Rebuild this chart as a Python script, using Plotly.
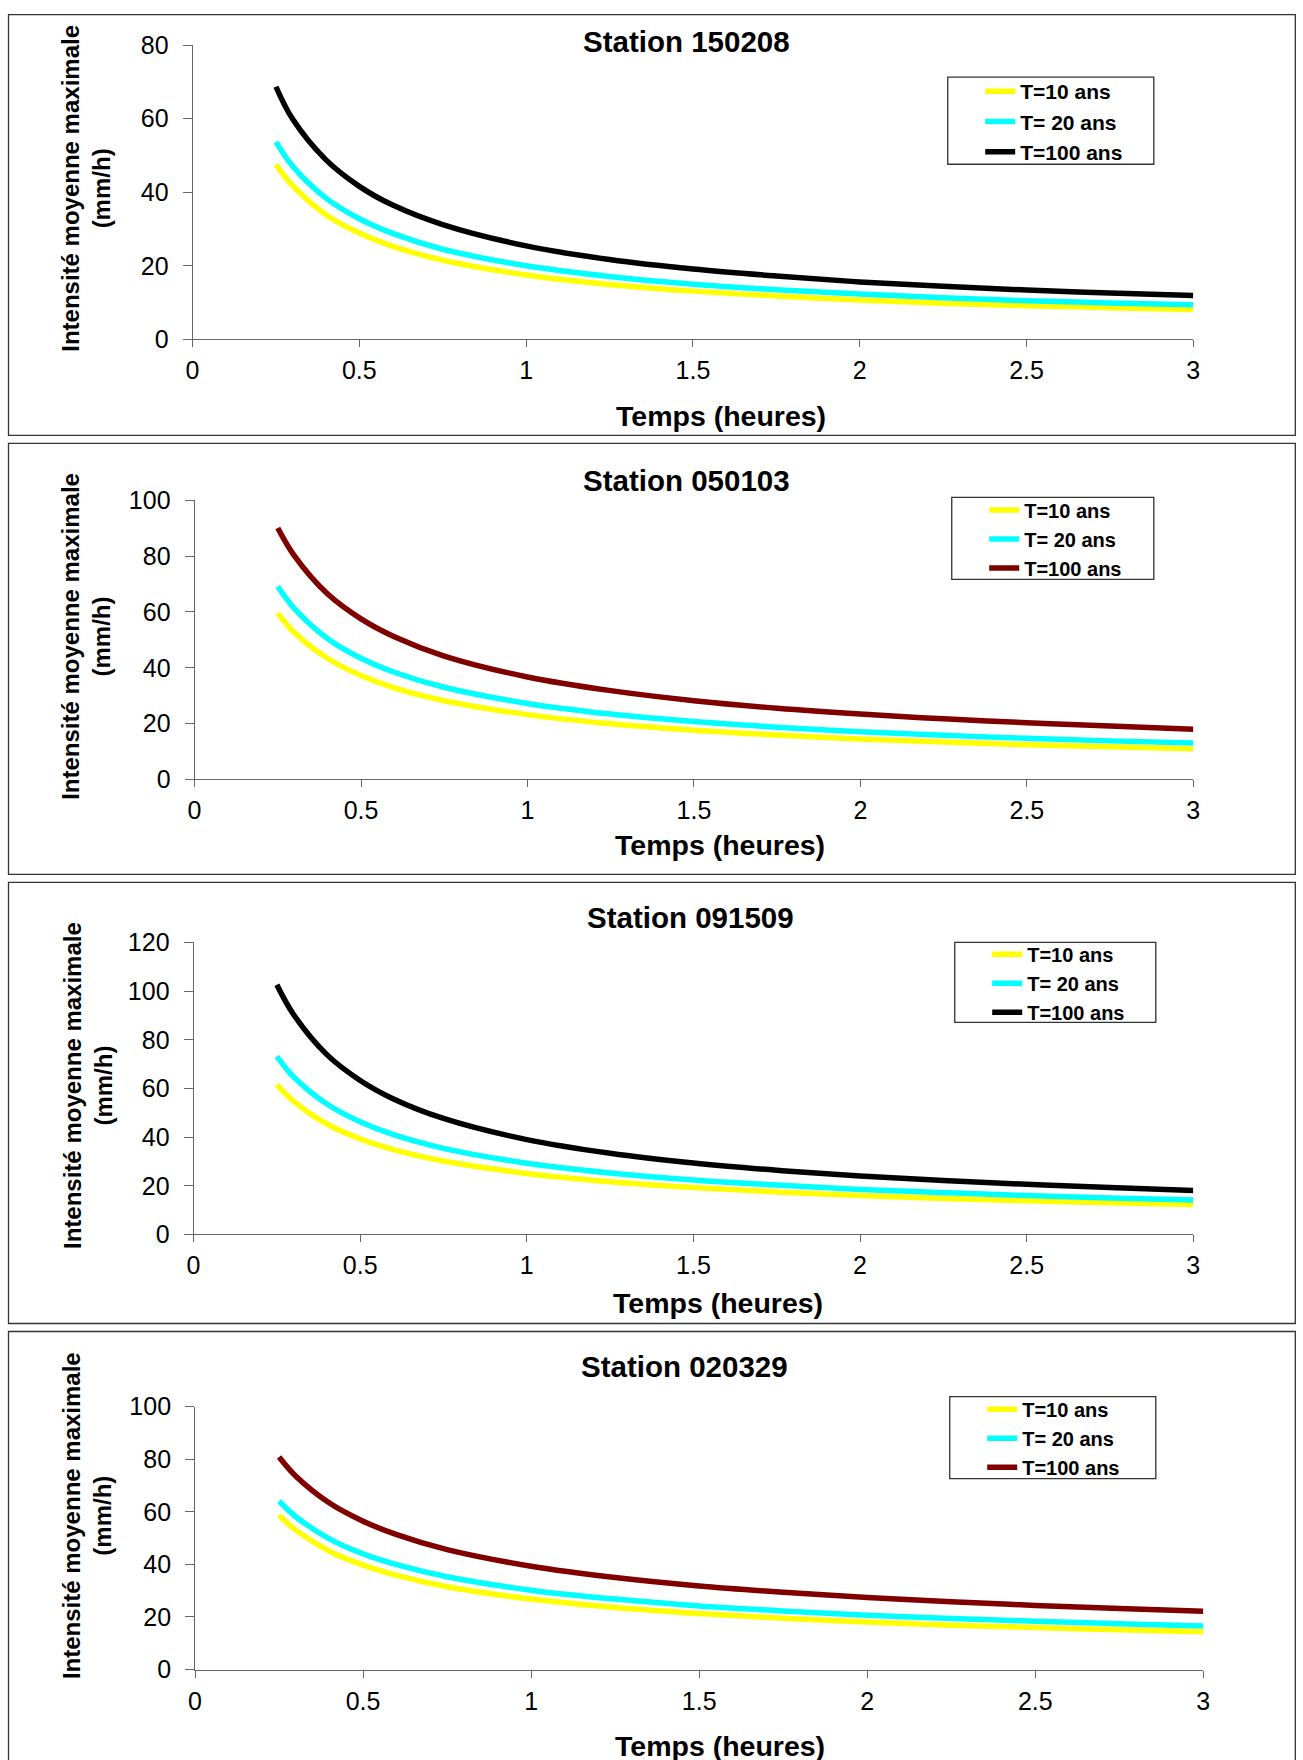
import plotly.graph_objects as go

FW, FH = 1303, 1776        # figure size (page px)

# ---------------- data ----------------
time_h = [0.25, 0.3, 0.4, 0.5, 0.6, 0.75, 1.0, 1.25, 1.5, 1.75, 2.0, 2.25, 2.5, 2.75, 3.0]

series_names = ["T=10 ans", "T= 20 ans", "T=100 ans"]
station_names = ["Station 150208", "Station 050103", "Station 091509", "Station 020329"]

st150208_t10 = [47.5, 41.8, 33.9, 28.9, 25.3, 21.5, 17.5, 14.9, 13.1, 11.8, 10.7, 9.8, 9.1, 8.6, 8.1]
st150208_t20 = [53.7, 47.1, 38.4, 32.8, 28.8, 24.5, 20.0, 17.1, 15.0, 13.5, 12.3, 11.3, 10.5, 9.9, 9.4]
st150208_t100 = [68.7, 59.9, 48.8, 41.6, 36.5, 31.2, 25.4, 21.7, 19.1, 17.2, 15.6, 14.4, 13.4, 12.6, 11.9]

st050103_t10 = [59.6, 52.6, 43.3, 37.2, 32.8, 28.2, 23.2, 19.9, 17.6, 15.9, 14.5, 13.4, 12.4, 11.7, 11.0]
st050103_t20 = [69.1, 61.2, 50.4, 43.4, 38.4, 33.0, 27.2, 23.4, 20.7, 18.7, 17.1, 15.8, 14.7, 13.8, 13.0]
st050103_t100 = [90.1, 80.1, 66.4, 57.5, 51.1, 44.2, 36.7, 31.8, 28.2, 25.5, 23.4, 21.7, 20.3, 19.1, 18.0]

st091509_t10 = [61.6, 54.8, 45.4, 39.3, 34.9, 30.2, 25.1, 21.7, 19.3, 17.5, 16.0, 14.8, 13.9, 13.0, 12.3]
st091509_t20 = [73.2, 64.8, 53.6, 46.3, 41.0, 35.4, 29.3, 25.3, 22.4, 20.3, 18.5, 17.2, 16.0, 15.0, 14.2]
st091509_t100 = [102.6, 90.4, 73.9, 63.3, 55.7, 47.7, 39.0, 33.4, 29.4, 26.4, 24.0, 22.2, 20.6, 19.3, 18.1]

st020329_t10 = [58.7, 53.0, 45.0, 39.7, 35.8, 31.5, 26.8, 23.6, 21.3, 19.5, 18.1, 16.9, 16.0, 15.1, 14.4]
st020329_t20 = [64.1, 58.1, 49.7, 44.0, 39.9, 35.3, 30.2, 26.8, 24.2, 22.3, 20.7, 19.4, 18.4, 17.4, 16.6]
st020329_t100 = [80.8, 73.5, 63.3, 56.4, 51.3, 45.6, 39.3, 35.0, 31.8, 29.4, 27.4, 25.8, 24.4, 23.2, 22.2]

x_tick_vals = [0, 0.5, 1, 1.5, 2, 2.5, 3]
x_tick_text = ["0", "0.5", "1", "1.5", "2", "2.5", "3"]
y_max = [80, 100, 120, 100]

panel_series = [
    [st150208_t10, st150208_t20, st150208_t100],
    [st050103_t10, st050103_t20, st050103_t100],
    [st091509_t10, st091509_t20, st091509_t100],
    [st020329_t10, st020329_t20, st020329_t100],
]

# ---------------- styles / layout geometry (target picture pixels) ----------------
YELLOW, CYAN, BLACK, MAROON = "#FFFF00", "#00FFFF", "#000000", "#800000"
panel_colors = [
    [YELLOW, CYAN, BLACK],
    [YELLOW, CYAN, MAROON],
    [YELLOW, CYAN, BLACK],
    [YELLOW, CYAN, MAROON],
]
# plot area: left, right, top, bottom
plot_px = [
    (192, 1192.5, 45, 339),
    (194, 1192.5, 500, 779),
    (193, 1192.5, 942, 1234),
    (194.5, 1202.5, 1406, 1669),
]
# panel frame: top, bottom
frame_px = [(7, 435), (443, 874), (882, 1323), (1331, 1790)]
# legend box: left, right, top, bottom
legend_px = [
    (947, 1153, 77, 164),
    (951, 1153, 497, 579),
    (954, 1155, 942, 1022),
    (949, 1155, 1396, 1478),
]
legend_font = [21, 20, 20, 20]
title_px = [(686, 41), (686, 480), (690, 917), (684, 1366)]
xtitle_px = [(720, 416), (719, 845), (717, 1302), (719, 1745)]
ytitle_px = [(86, 188), (86, 636), (88, 1085), (86, 1515)]

FONT = "Liberation Sans, Arial, sans-serif"

# picture position -> page position (the page is photographed slightly reduced/offset)
SX, CX = 0.989, 6.5
SY, CY = 0.984, 13.8


def page_x(p):
    return (p - CX) / SX


def page_y(p):
    return (p - CY) / SY


def fx(p):
    return min(max(page_x(p), 0.7), FW - 0.7) / FW


def fy(p):
    return 1 - min(max(page_y(p), 0.7), FH - 0.7) / FH


fig = go.Figure()
layout = dict(
    width=FW,
    height=FH,
    margin=dict(l=0, r=0, t=0, b=0),
    paper_bgcolor="white",
    plot_bgcolor="white",
    font=dict(family=FONT, color="black"),
    showlegend=True,
)
shapes = []
annotations = []

for i in range(4):
    n = i + 1
    xa = "x" if n == 1 else f"x{n}"
    ya = "y" if n == 1 else f"y{n}"
    lg = "legend" if n == 1 else f"legend{n}"
    for name, vals, col in zip(series_names, panel_series[i], panel_colors[i]):
        fig.add_trace(go.Scatter(
            x=time_h, y=vals, name=name, mode="lines",
            line=dict(color=col, width=5.5, shape="spline", smoothing=1.0),
            xaxis=xa, yaxis=ya, legend=lg,
        ))
    l, r, t, b = plot_px[i]
    axis_common = dict(
        showgrid=False, zeroline=False, showline=True, linecolor="#666666", linewidth=1,
        ticks="outside", tickcolor="#666666", tickwidth=1,
        tickfont=dict(family=FONT, size=25, color="black"),
    )
    layout["xaxis" if n == 1 else f"xaxis{n}"] = dict(
        axis_common, domain=[fx(l), fx(r)], anchor=ya, range=[0, 3],
        tickvals=x_tick_vals, ticktext=x_tick_text, ticklen=7, ticklabelstandoff=2,
    )
    layout["yaxis" if n == 1 else f"yaxis{n}"] = dict(
        axis_common, domain=[fy(b), fy(t)], anchor=xa, range=[0, y_max[i]],
        dtick=20, tick0=0, ticklen=9, ticklabelstandoff=9,
    )
    ll, lr, lt, lb = legend_px[i]
    lf = legend_font[i]
    item_h = lf * 1.3 + 3
    box_mid_page = page_y((lt + lb) / 2)
    leg_top_page = box_mid_page - (5 + 1.5 * item_h)
    leg_left_page = page_x(ll + 73) - 41
    layout[lg] = dict(
        x=leg_left_page / FW, y=1 - leg_top_page / FH, xanchor="left", yanchor="top",
        bgcolor="rgba(0,0,0,0)", borderwidth=0,
        font=dict(family=FONT, size=lf, color="black", weight="bold"),
        tracegroupgap=0, itemwidth=30,
    )
    ft, fb = frame_px[i]
    shapes.append(dict(type="rect", xref="paper", yref="paper",
                       x0=fx(8), x1=fx(1298), y0=fy(fb), y1=fy(ft),
                       line=dict(color="#333333", width=1.3), layer="below"))
    shapes.append(dict(type="rect", xref="paper", yref="paper",
                       x0=fx(ll), x1=fx(lr), y0=fy(lb), y1=fy(lt),
                       line=dict(color="#333333", width=1.3)))
    tx, ty = title_px[i]
    annotations.append(dict(text=f"<b>{station_names[i]}</b>", xref="paper", yref="paper",
                            x=fx(tx), y=fy(ty), xanchor="center", yanchor="middle",
                            showarrow=False, font=dict(family=FONT, size=29.5, color="black")))
    xx, xy = xtitle_px[i]
    annotations.append(dict(text="<b>Temps (heures)</b>", xref="paper", yref="paper",
                            x=fx(xx), y=fy(xy), xanchor="center", yanchor="middle",
                            showarrow=False, font=dict(family=FONT, size=28.5, color="black")))
    yx, yy = ytitle_px[i]
    annotations.append(dict(text="<b>Intensité moyenne maximale<br>(mm/h)</b>", xref="paper", yref="paper",
                            x=fx(yx), y=fy(yy), xanchor="center", yanchor="middle", textangle=-90,
                            showarrow=False, font=dict(family=FONT, size=24, color="black")))

layout["shapes"] = shapes
layout["annotations"] = annotations
fig.update_layout(**layout)

fig.write_html("out.html", config={"displayModeBar": False},
               post_script="document.body.style.margin='0';")
